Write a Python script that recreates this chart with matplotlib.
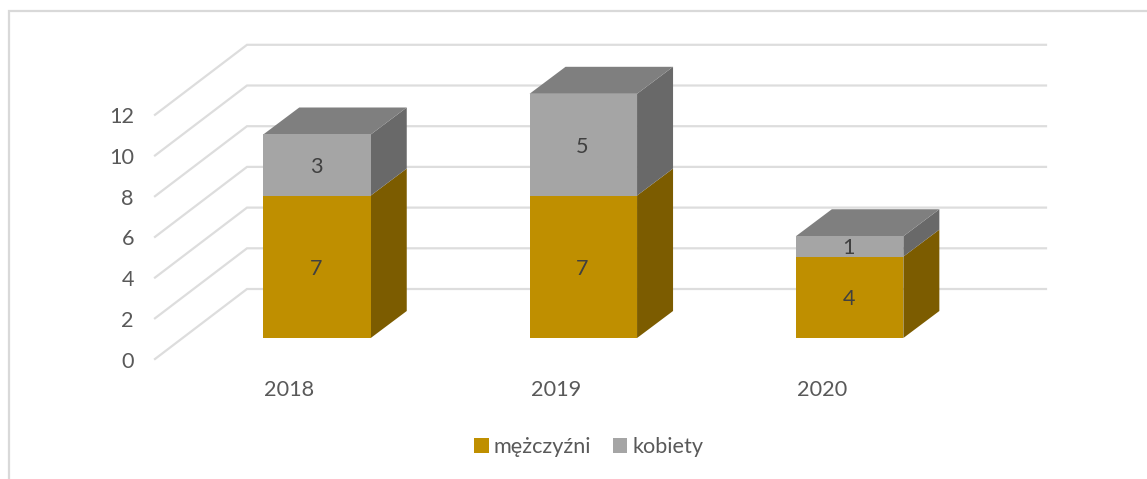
import numpy as np
import matplotlib
matplotlib.use("Agg")
import matplotlib.pyplot as plt
from matplotlib.patches import Rectangle

years = ["2018", "2019", "2020"]
mezczyzni = [7, 7, 4]
kobiety = [3, 5, 1]
y_ticks = [0, 2, 4, 6, 8, 10, 12]

GOLD = "#BF8F00"
GOLD_SIDE = "#7C5C00"
GREY = "#A5A5A5"
GREY_SIDE = "#696969"
TOP = "#7F7F7F"
GRID = "#DDDDDD"

W, H = 1147, 479
# skala osi: pozycja kategorii 0 na 317 px, wartosc 0 na 338 px
PX_X = 266.3
PX_Y = 20.35
X0, Y0 = 317, 338
FS = 15.6

plt.rcParams['font.family'] = ['Lato', 'DejaVu Sans']

fig = plt.figure(figsize=(W / 100, H / 100), dpi=100)
ax = fig.add_axes([0, 0, 1, 1])
ax.set_xlim((0 - X0) / PX_X, (W - X0) / PX_X)
ax.set_ylim((Y0 - H) / PX_Y, Y0 / PX_Y)
ax.axis("off")

# ramka wykresu
ax.add_patch(Rectangle((9 / W, -0.05), 1.1, 1.05 - 11 / H, transform=ax.transAxes,
                       fill=False, ec="#D9D9D9", lw=1.6, clip_on=True))

# "perspektywa" - przesuniecia w jednostkach danych
bar_w = 107.5 / PX_X
dx = 36 / PX_X
dy = 27 / PX_Y
floor_y = -21 / PX_Y
wall_dx = 92 / PX_X
wall_dy = 70 / PX_Y
wall_left = (155 - X0) / PX_X
wall_right = (1046 - X0) / PX_X
text_shift = -2.5 / PX_Y

# siatka: sciana boczna i tylna
for t in y_ticks:
    y = t + floor_y
    ax.plot([wall_left, wall_left + wall_dx, wall_right], [y, y + wall_dy, y + wall_dy],
            color=GRID, lw=1.6, solid_joinstyle="miter", zorder=1)
    ax.text(wall_left - 21 / PX_X, y + text_shift, str(t), ha="right", va="center",
            fontsize=FS, color="#595959")

x = np.arange(len(years))
bars1 = ax.bar(x, mezczyzni, bar_w, color=GOLD, label="mężczyźni", zorder=3)
bars2 = ax.bar(x, kobiety, bar_w, bottom=mezczyzni, color=GREY, label="kobiety", zorder=3)

for i in x:
    right = i + bar_w / 2
    left = i - bar_w / 2
    m = mezczyzni[i]
    total = m + kobiety[i]
    ax.fill([right, right + dx, right + dx, right], [0, dy, m + dy, m], color=GOLD_SIDE, lw=0, zorder=2)
    ax.fill([right, right + dx, right + dx, right], [m, m + dy, total + dy, total], color=GREY_SIDE, lw=0, zorder=2)
    ax.fill([left, right, right + dx, left + dx], [total, total, total + dy, total + dy], color=TOP, lw=0, zorder=2)
    ax.text(i - 1 / PX_X, m / 2 - 2 / PX_Y, str(m), ha="center", va="center",
            fontsize=FS, color="#404040", zorder=4)
    ax.text(i - 1 / PX_X, m + kobiety[i] / 2 - 2 / PX_Y, str(kobiety[i]), ha="center", va="center",
            fontsize=FS, color="#404040", zorder=4)
    ax.text(i - 27.5 / PX_X, -52 / PX_Y, years[i], ha="center", va="center",
            fontsize=FS, color="#595959")

leg = ax.legend(handles=[bars1, bars2], ncol=2, frameon=False, loc="center",
                bbox_to_anchor=(589 / W, 1 - 447 / H), fontsize=FS,
                handlelength=0.66, handleheight=0.66, handletextpad=0.25, columnspacing=1.0)
for t in leg.get_texts():
    t.set_color("#595959")

fig.savefig("out.png", dpi=100)
